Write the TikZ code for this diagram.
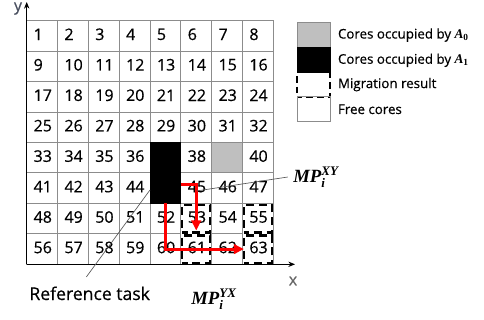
\documentclass[tikz,border=0pt]{standalone}
\usepackage{fontspec}
\setmainfont{Open Sans}[UprightFeatures={FakeBold=0.5}]
\newfontfamily\mpfont{Liberation Serif}
\usepackage{amsmath}
\usetikzlibrary{arrows.meta,calc}
\definecolor{gridc}{HTML}{8C8C8C}
\definecolor{occ}{HTML}{BFBFBF}
\definecolor{axlab}{HTML}{4A5060}
\newcommand{\mpbi}[1]{{\mpfont\bfseries\itshape #1}}
\begin{document}
\begin{tikzpicture}[x=0.75pt,y=-0.75pt,
  cell/.style={draw=gridc, line width=0.7pt, minimum width=23.12pt, minimum height=22.84pt, inner sep=0pt, outer sep=0pt},
  num/.style={font=\fontsize{12}{14}\selectfont, inner sep=0pt, anchor=west},
  mig/.style={draw=black, line width=1.8pt, dash pattern=on 6pt off 3.5pt, dash phase=2pt,
    preaction={draw=white, solid, line width=1.8pt},
    minimum width=21pt, minimum height=20.6pt, inner sep=0pt, outer sep=0pt},
  arr/.style={draw=red, line width=2.2pt, -{Triangle[length=7.5pt,width=7pt]}},
  ann/.style={draw=gray!70!black, line width=0.5pt},
  lg/.style={draw=gridc, line width=0.7pt, minimum width=24.75pt, minimum height=18.6pt, inner sep=0pt, outer sep=0pt},
  lgt/.style={font=\fontsize{10}{12}\selectfont, inner sep=0pt, anchor=west},
  mp/.style={font=\fontsize{14}{16}\selectfont, inner sep=0pt},
  axis/.style={draw=black, line width=0.6pt, -{Stealth[length=5pt,width=4pt]}}]
\useasboundingbox (0,0) rectangle (484,320);

% grid cells
\foreach \r in {1,...,8}{
  \foreach \c in {1,...,8}{
    \node[cell] (c-\r-\c) at ({26.7+(\c-0.5)*30.825},{20.7+(\r-0.5)*30.45}) {};
  }
}
% occupied cores
\node[cell, fill=occ] (g39) at (c-5-7) {};
\node[cell, draw=black, fill=black, minimum height=45.68pt] (blk) at ($(c-5-5)!0.5!(c-6-5)$) {};

% numbers
\foreach \r in {1,...,4}{
  \foreach \c in {1,...,8}{
    \pgfmathtruncatemacro\t{(\r-1)*8+\c}
    \node[num] (n-\r-\c) at ([xshift=5pt,yshift=1.2pt]c-\r-\c.west) {\t};
  }
}
\foreach \c/\t in {1/33,2/34,3/35,4/36,6/38,8/40}{
  \node[num] (n-5-\c) at ([xshift=5pt,yshift=1.2pt]c-5-\c.west) {\t};
}
\foreach \c/\t in {1/41,2/42,3/43,4/44,6/45,7/46,8/47}{
  \node[num] (n-6-\c) at ([xshift=5pt,yshift=1.2pt]c-6-\c.west) {\t};
}
\foreach \c in {1,...,8}{
  \pgfmathtruncatemacro\t{47+\c}
  \node[num] (n-7-\c) at ([xshift=5pt,yshift=1.2pt]c-7-\c.west) {\t};
  \pgfmathtruncatemacro\u{55+\c}
  \node[num] (n-8-\c) at ([xshift=5pt,yshift=1.2pt]c-8-\c.west) {\u};
}

% migration result boxes
\node[mig] (m53) at (c-7-6) {};
\node[mig] (m61) at (c-8-6) {};
\node[mig] (m55) at (c-7-8) {};
\node[mig] (m63) at (c-8-8) {};

% axes
\coordinate (O) at (26.7,264.3);
\coordinate (ytip) at (26.7,2);
\coordinate (xtip) at (295,264.3);
\draw[axis] (O) -- (ytip);
\draw[axis] (O) -- (xtip);
\node[font=\fontsize{12}{14}\selectfont, text=axlab, inner sep=0pt] (ylab) at (18,8.5) {y};
\node[font=\fontsize{12}{14}\selectfont, text=gray!80!black, inner sep=0pt] (xlab) at (293,281) {x};

% migration paths
\draw[arr] ([yshift=-9pt]blk.east) -| ([yshift=1.4pt]m53.south);
\draw[arr] (blk.south) |- (m63.west);

% annotations
\node[mp] (mpxy) at (316,177) {$\text{\mpbi{MP}}^{\text{\mpbi{XY}}}_{\text{\mpbi{i}}}$};
\node[mp] (mpyx) at (214,299) {$\text{\mpbi{MP}}^{\text{\mpbi{YX}}}_{\text{\mpbi{i}}}$};
\coordinate (xyhit) at (196.4,191);
\draw[ann] ([xshift=-4pt]mpxy.west) -- (xyhit);
\node[font=\fontsize{13.2}{16}\selectfont, inner sep=0pt, anchor=base] (ref) at (89.7,300) {Reference task};
\draw[ann] ([yshift=-12.75pt]blk.west) -- ([xshift=-2.5pt,yshift=7pt]ref.north);

% legend
\node[lg, fill=occ] (lb0) at (313.5,35.1) {};
\node[lg, draw=black, fill=black] (lb1) at (313.5,59.8) {};
\node[lg, draw=black, line width=0.8pt, dash pattern=on 5pt off 3pt, dash phase=1pt] (lb2) at (313.5,84.6) {};
\node[lg] (lb3) at (313.5,109.3) {};
\node[lgt] (lt0) at (337.7,35.1) {Cores occupied by $\text{\mpbi{A}}_{\text{\mpfont\bfseries 0}}$};
\node[lgt] (lt1) at (337.7,60.3) {Cores occupied by $\text{\mpbi{A}}_{\text{\mpfont\bfseries 1}}$};
\node[lgt] (lt2) at (337.7,84.6) {Migration result};
\node[lgt] (lt3) at (337.7,109.3) {Free cores};
\end{tikzpicture}
\end{document}
